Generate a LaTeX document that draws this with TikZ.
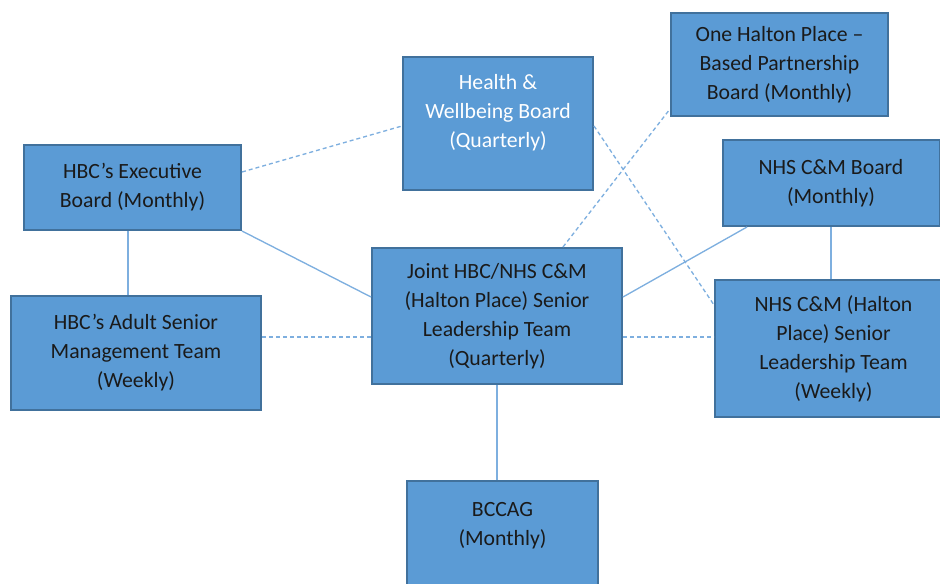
\documentclass[tikz,border=0pt]{standalone}
\usepackage{fontspec}
\setmainfont{Carlito}
\usepackage{xcolor}
\usetikzlibrary{calc}
\definecolor{boxblue}{HTML}{5B9BD5}
\definecolor{boxedge}{HTML}{41719C}
\definecolor{linkblue}{HTML}{7EAFDF}
\definecolor{ink}{HTML}{1A1A1A}

\begin{document}
\begin{tikzpicture}[x=0.75pt,y=0.75pt,yscale=-1,xscale=1,
	box/.style={draw=boxedge,fill=boxblue,line width=1.5pt,inner sep=0pt,align=center,text=ink,font=\fontsize{16.3}{21.75}\selectfont},
	txt/.style={inner sep=0pt,align=center,text=ink,font=\fontsize{16.3}{21.75}\selectfont},
	link/.style={draw=linkblue,line width=1pt},
	dlink/.style={link,dash pattern=on 3pt off 2.25pt}]
	\useasboundingbox (0,0) rectangle (940,584);
	\node[box,minimum width=142.5pt,minimum height=99.75pt] (hwb) at (498,123.5) {};
	\node[txt,text=white] (hwbt) at (498,113) {Health \&\\Wellbeing Board\\(Quarterly)};
	\node[box,minimum width=162.75pt,minimum height=77.25pt] (ohp) at (779.5,64.5) {One Halton Place --\\Based Partnership\\Board (Monthly)};
	\node[box,minimum width=162.75pt,minimum height=63.75pt] (exec) at (132.5,187.5) {HBC’s Executive\\Board (Monthly)};
	\node[box,minimum width=162.75pt,minimum height=64.5pt] (nhsb) at (831,183) {NHS C\&M Board\\(Monthly)};
	\node[box,minimum width=187.5pt,minimum height=102pt] (joint) at (497,316) {Joint HBC/NHS C\&M\\(Halton Place) Senior\\Leadership Team\\(Quarterly)};
	\node[box,minimum width=187.5pt,minimum height=85.5pt] (adult) at (136,353) {HBC’s Adult Senior\\Management Team\\(Weekly)};
	\node[box,minimum width=177.75pt,minimum height=102.75pt] (slt) at (833.5,348.5) {NHS C\&M (Halton\\Place) Senior\\Leadership Team\\(Weekly)};
	\node[box,minimum width=143.25pt,minimum height=89.25pt] (bcc) at (502.5,540.5) {};
	\node[txt] (bcct) at (502.5,525.5) {BCCAG\\(Monthly)};
	\draw[dlink] ($(exec.east)+(0,-15.5)$) -- ($(hwb.west)+(0,2.5)$);
	\draw[link] (exec.south east) -- ($(joint.west)+(0,-19)$);
	\coordinate (ea) at ($(exec.south)+(-4.5,0)$);
	\draw[link] (ea) -- (ea |- adult.north);
	\draw[dlink] ($(adult.east)+(0,-16)$) -- ($(joint.west)+(0,21)$);
	\draw[dlink] ($(joint.east)+(0,21)$) -- ($(slt.west)+(0,-11.5)$);
	\draw[dlink] ($(joint.north)+(66,0)$) -- ($(ohp.south west)+(0,-8)$);
	\draw[dlink] ($(hwb.east)+(0,2.5)$) -- ($(slt.west)+(0,-43.5)$);
	\draw[link] ($(joint.east)+(0,-19)$) -- ($(nhsb.south)+(-84,0)$);
	\draw[link] (nhsb.south) -- (nhsb.south |- slt.north);
	\draw[link] (joint.south) -- (joint.south |- bcc.north);
\end{tikzpicture}
\end{document}
